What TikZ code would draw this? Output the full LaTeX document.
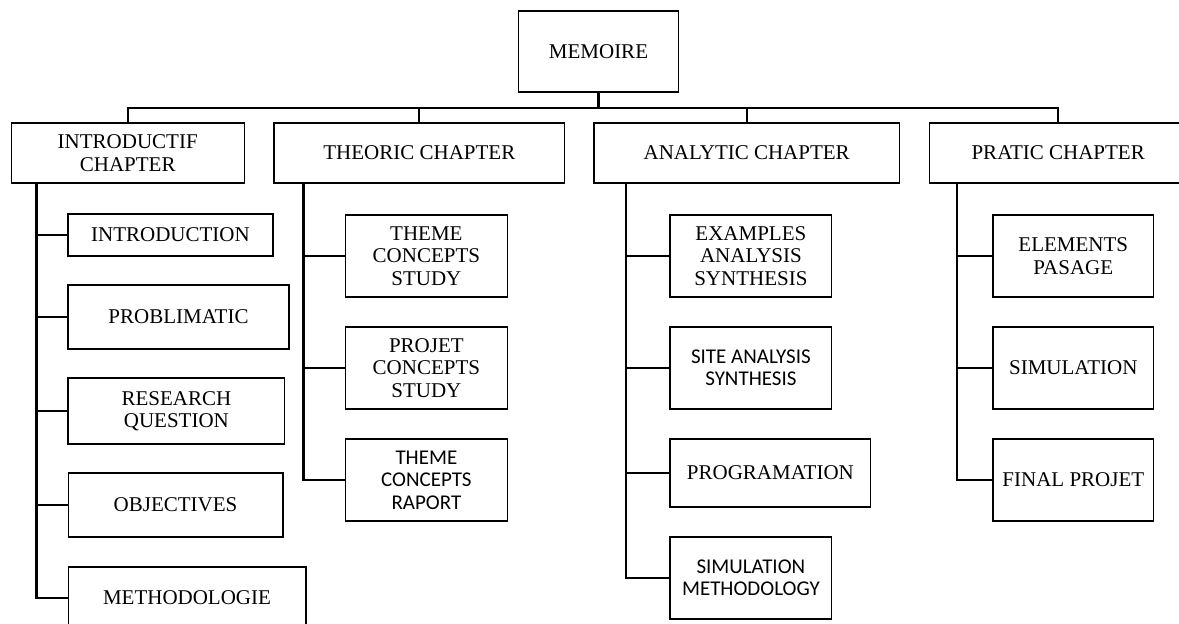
\documentclass[tikz,border=0pt]{standalone}
\usepackage{fontspec}
\setmainfont{Liberation Serif}
\newfontfamily\calib{Carlito}
\begin{document}
\begin{tikzpicture}[x=1pt,y=-1pt,
  box/.style={draw=black, line width=1.3pt, fill=white, inner sep=0pt, outer sep=0pt,
    align=center, font=\fontsize{21}{22.5}\selectfont},
  conn/.style={draw=black, line width=2.2pt},
  stemline/.style={draw=black, line width=3.5pt}]
\useasboundingbox (0,0) rectangle (1179,624);
\clip (0,0) rectangle (1179,624);
\fill[white] (0,0) rectangle (1179,624);

% root
\node[box, minimum width=160pt, minimum height=81pt] (root) at (598.5,51.5) {MEMOIRE};

% chapters
\node[box, minimum width=233pt, minimum height=60pt] (c1) at (127.7,153) {INTRODUCTIF\\CHAPTER};
\node[box, minimum width=290.5pt, minimum height=60pt] (c2) at (419.3,153) {THEORIC CHAPTER};
\node[box, minimum width=305.3pt, minimum height=60pt] (c3) at (746.7,153) {ANALYTIC CHAPTER};
\node[box, minimum width=257.5pt, minimum height=60pt] (c4) at (1058.2,153) {PRATIC CHAPTER};

% introductif children
\node[box, minimum width=204.8pt, minimum height=42pt] (i1) at (170.5,235) {INTRODUCTION};
\node[box, minimum width=221pt, minimum height=64pt] (i2) at (178.5,317) {PROBLIMATIC};
\node[box, minimum width=216.6pt, minimum height=66pt] (i3) at (176.4,411) {RESEARCH\\QUESTION};
\node[box, minimum width=214.7pt, minimum height=64pt] (i4) at (175.5,505) {OBJECTIVES};
\node[box, minimum width=237.7pt, minimum height=62pt] (i5) at (187,598) {METHODOLOGIE};

% theoric children
\node[box, minimum width=161.5pt, minimum height=82pt] (t1) at (426.4,256) {THEME\\CONCEPTS\\STUDY};
\node[box, minimum width=161.5pt, minimum height=82pt] (t2) at (426.4,368) {PROJET\\CONCEPTS\\STUDY};
\node[box, minimum width=161.5pt, minimum height=82pt] (t3) at (426.4,480) {\calib THEME\\\calib CONCEPTS\\\calib RAPORT};

% analytic children
\node[box, minimum width=161.6pt, minimum height=82pt] (a1) at (750.9,256) {EXAMPLES\\ANALYSIS\\SYNTHESIS};
\node[box, minimum width=161.6pt, minimum height=82pt] (a2) at (750.9,368) {\calib SITE ANALYSIS\\\calib SYNTHESIS};
\node[box, minimum width=200.6pt, minimum height=68pt] (a3) at (770.4,473) {PROGRAMATION};
\node[box, minimum width=161.6pt, minimum height=82pt] (a4) at (750.9,578) {\calib SIMULATION\\\calib METHODOLOGY};

% pratic children
\node[box, minimum width=160.8pt, minimum height=82pt] (p1) at (1073.3,256) {ELEMENTS\\PASAGE};
\node[box, minimum width=160.8pt, minimum height=82pt] (p2) at (1073.3,368) {SIMULATION};
\node[box, minimum width=160.8pt, minimum height=82pt] (p3) at (1073.3,480) {FINAL PROJET};

% top connectors
\coordinate (bar) at (598.5,108);
\draw[stemline] (root.south) -- (bar);
\draw[conn] (c1.north) |- (bar) -| (c4.north);
\draw[conn] (c2.north) -- (c2.north |- bar);
\draw[conn] (c3.north) -- (c3.north |- bar);

% trunks
\coordinate (k1) at (36.4,183);
\coordinate (k2) at (303.5,183);
\coordinate (k3) at (625.8,183);
\coordinate (k4) at (956.6,183);

\draw[conn] (k1) |- (i5.west);
\foreach \n in {i1,i2,i3,i4} \draw[conn] (k1 |- \n.west) -- (\n.west);

\draw[conn] (k2) |- (t3.west);
\foreach \n in {t1,t2} \draw[conn] (k2 |- \n.west) -- (\n.west);

\draw[conn] (k3) |- (a4.west);
\foreach \n in {a1,a2,a3} \draw[conn] (k3 |- \n.west) -- (\n.west);

\draw[conn] (k4) |- (p3.west);
\foreach \n in {p1,p2} \draw[conn] (k4 |- \n.west) -- (\n.west);
\end{tikzpicture}
\end{document}
